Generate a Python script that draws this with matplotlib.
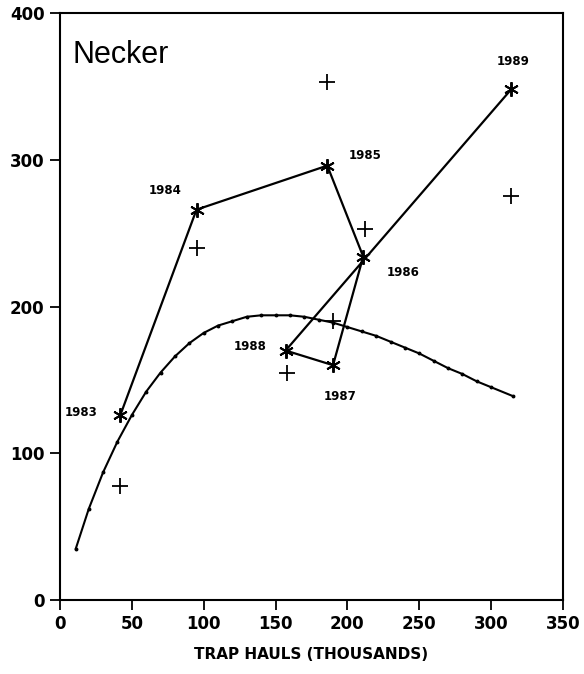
import matplotlib.pyplot as plt

# predicted (asterisks, joined by year) and observed (crosses) values
years = ['1983', '1984', '1985', '1986', '1987', '1988', '1989']
hauls = [42, 95, 186, 211, 190, 157, 314]
predicted = [126, 266, 296, 234, 160, 170, 348]
obs_hauls = [42, 95, 186, 212, 190, 158, 314]
observed = [78, 240, 353, 253, 190, 155, 275]

# equilibrium curve
curve_x = [11, 20, 30, 40, 50, 60, 70, 80, 90, 100, 110, 120, 130, 140, 150,
           160, 170, 180, 190, 200, 210, 220, 230, 240, 250, 260, 270, 280,
           290, 300, 315]
curve_y = [35, 62, 87, 108, 126, 142, 155, 166, 175, 182, 187, 190, 193, 194, 194,
           194, 193, 191, 189, 186, 183, 180, 176, 172, 168, 163, 158, 154,
           149, 145, 139]

# label positions (centre) for each year
label_x = [15, 73, 212, 239, 195, 132, 315]
label_y = [128, 279, 303, 223, 139, 173, 367]

plt.rcParams['font.family'] = ['DejaVu Sans']

fig = plt.figure(figsize=(5.84, 6.74), dpi=100)
ax = fig.add_axes([0.1027, 0.1098, 0.8613, 0.8709])

ax.plot(curve_x, curve_y, color='black', lw=1.5, marker='o', ms=1.8)
ax.plot(hauls, predicted, color='black', lw=1.6, marker=(6, 2, 0), ms=10.5, mew=1.4)
ax.plot(obs_hauls, observed, ls='none', marker='+', color='black', ms=12, mew=1.3)

for yr, lx, ly in zip(years, label_x, label_y):
    ax.text(lx, ly, yr, fontsize=8.5, fontweight='bold', ha='center', va='center')

ax.text(8.4, 366, 'Necker', fontsize=22, family='Liberation Sans', ha='left', va='baseline')

ax.set_xlim(0, 350)
ax.set_ylim(0, 400)
ax.set_xticks([0, 50, 100, 150, 200, 250, 300, 350])
ax.set_yticks([0, 100, 200, 300, 400])
ax.tick_params(direction='out', length=7, width=1.3, labelsize=12, pad=4)
for lab in ax.get_xticklabels() + ax.get_yticklabels():
    lab.set_fontweight('bold')
for s in ax.spines.values():
    s.set_linewidth(1.5)

ax.set_xlabel('TRAP HAULS (THOUSANDS)', fontsize=11, fontweight='bold', labelpad=10)

fig.savefig('out.png', dpi=100)
